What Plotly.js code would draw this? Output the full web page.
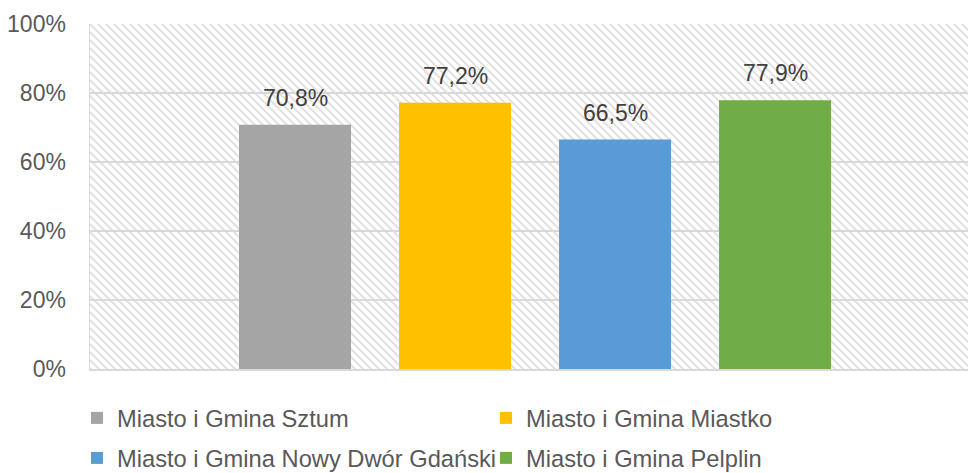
<!DOCTYPE html>
<html>
<head>
<meta charset="utf-8">
<script src="https://cdn.plot.ly/plotly-3.0.1.min.js"></script>
<style>html,body{margin:0;padding:0;background:#fff}#chart{width:968px;height:473px}</style>
</head>
<body>
<div id="chart"></div>
<script>
const categories = ["Miasto i Gmina Sztum", "Miasto i Gmina Miastko", "Miasto i Gmina Nowy Dwór Gdański", "Miasto i Gmina Pelplin"];
const values = [0.708, 0.772, 0.665, 0.779];
const colors = ["#A5A5A5", "#FFC000", "#5B9BD5", "#70AD47"];
const legendGroups = ["legend", "legend", "legend2", "legend2"];

const FONT = "Liberation Sans, Arial, sans-serif";

const traces = categories.map((c, i) => ({
  type: "bar",
  name: c,
  x: [c],
  y: [values[i]],
  width: 0.7,
  marker: { color: colors[i] },
  legend: legendGroups[i],
  hoverinfo: "none"
}));

const annotations = categories.map((c, i) => ({
  x: c, y: values[i], xref: "x", yref: "y",
  text: (values[i] * 100).toFixed(1).replace(".", ",") + "%",
  showarrow: false, yanchor: "bottom", yshift: 12,
  font: { family: FONT, size: 23, color: "#404040" }
}));

const W = 878, H = 345;
const svg = `<svg xmlns="http://www.w3.org/2000/svg" width="${W}" height="${H}" viewBox="0 0 ${W} ${H}" preserveAspectRatio="none"><defs><pattern id="p" width="8" height="8" patternUnits="userSpaceOnUse"><rect width="8" height="8" fill="#ffffff"/><path d="M-2,-2 L10,10 M-2,6 L2,10 M6,-2 L10,2" stroke="#e2e2e2" stroke-width="2"/></pattern></defs><rect width="${W}" height="${H}" fill="url(#p)"/></svg>`;
const hatch = "data:image/svg+xml;base64," + btoa(svg);

const layout = {
  width: 968, height: 473,
  margin: { l: 90, r: 0, t: 24, b: 104, autoexpand: false },
  paper_bgcolor: "#ffffff",
  plot_bgcolor: "rgba(0,0,0,0)",
  barmode: "overlay",
  showlegend: true,
  font: { family: FONT, size: 23, color: "#595959" },
  xaxis: {
    type: "category",
    range: [-1.28125, 4.206],
    showticklabels: false,
    showgrid: false,
    zeroline: false,
    showline: true, linecolor: "#d9d9d9", linewidth: 1.5,
    fixedrange: true
  },
  yaxis: {
    range: [0, 1],
    dtick: 0.2,
    tickformat: ".0%",
    showgrid: true, gridcolor: "#d9d9d9", gridwidth: 1.5,
    zeroline: false,
    showline: true, linecolor: "#d9d9d9", linewidth: 1.5,
    ticklabelstandoff: 18,
    tickfont: { family: FONT, size: 23, color: "#595959" },
    fixedrange: true
  },
  images: [{
    source: hatch, xref: "paper", yref: "paper",
    x: 0, y: 1, sizex: 1, sizey: 1, sizing: "stretch",
    xanchor: "left", yanchor: "top", layer: "below"
  }],
  legend: {
    orientation: "h", x: -0.0148, y: -0.142, xanchor: "left", yanchor: "middle",
    entrywidth: 364, entrywidthmode: "pixels", itemwidth: 30,
    font: { family: FONT, size: 23.7, color: "#595959" },
    bgcolor: "rgba(0,0,0,0)"
  },
  legend2: {
    orientation: "h", x: -0.0148, y: -0.258, xanchor: "left", yanchor: "middle",
    entrywidth: 364, entrywidthmode: "pixels", itemwidth: 30,
    font: { family: FONT, size: 23.7, color: "#595959" },
    bgcolor: "rgba(0,0,0,0)"
  },
  annotations: annotations
};

Plotly.newPlot("chart", traces, layout, { displayModeBar: false, staticPlot: true });
</script>
</body>
</html>
